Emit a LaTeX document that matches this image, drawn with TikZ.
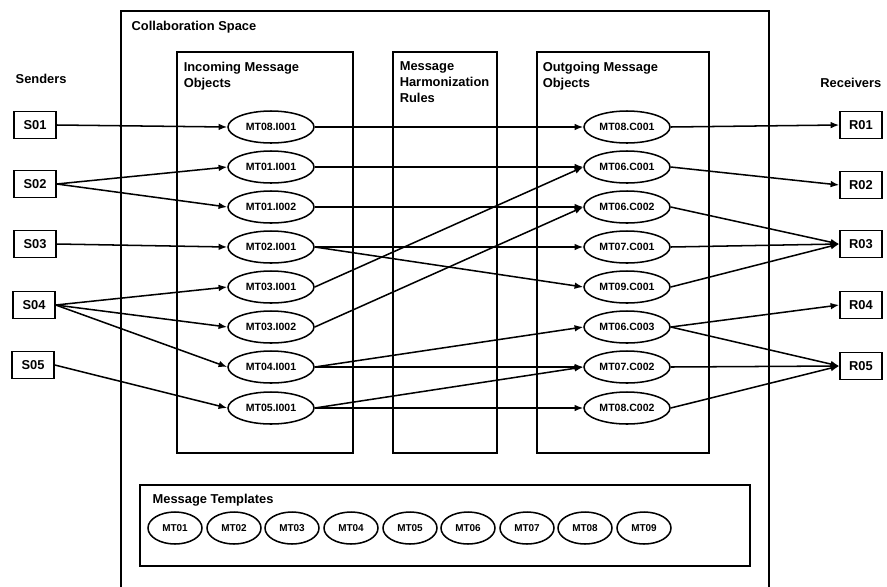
\documentclass[tikz,border=0pt]{standalone}
\usepackage{fontspec}
\setmainfont{Liberation Sans}
\usetikzlibrary{shapes.geometric,arrows.meta}

\begin{document}
\begin{tikzpicture}[x=0.3mm,y=-0.3mm,line width=1.3pt,
		font=\bfseries\fontsize{11}{13.6}\selectfont,
		box/.style={draw,minimum width=12.6mm,minimum height=8.1mm,inner sep=0pt},
		msg/.style={draw,ellipse,minimum width=25.8mm,minimum height=9.6mm,inner sep=0pt,font=\bfseries\fontsize{9}{10}\selectfont},
		tpl/.style={draw,ellipse,minimum width=16.2mm,minimum height=9.6mm,inner sep=0pt,font=\bfseries\fontsize{8.5}{10}\selectfont},
		arr/.style={-{Latex[length=2.6mm,width=2mm]}}]
		\useasboundingbox (0,0) rectangle (887,586);
		\draw(121,590) -- (121,11) -- (769,11) -- (769,590);
		\draw(177,52) rectangle (353,453);
		\draw(393,52) rectangle (497,453);
		\draw(537,52) rectangle (709,453);
		\draw(140,485) rectangle (750,566);
		\node[anchor=base west] (space) at (127,30) {Collaboration Space};
		\node[anchor=north west,align=left,inner sep=0pt] (incoming) at (183,61) {Incoming Message\\Objects};
		\node[anchor=north west,align=left,inner sep=0pt] (rules) at (399,61) {Message\\Harmonization\\Rules};
		\node[anchor=north west,align=left,inner sep=0pt] (outgoing) at (542,61) {Outgoing Message\\Objects};
		\node[anchor=base west] (templates) at (148,503) {Message Templates};
		\node[anchor=base west] (senders) at (11,83) {Senders};
		\node[anchor=base east] (receivers) at (886,87) {Receivers};
		% senders and receivers
		\node[box] (S01) at (35,125) {S01};
		\node[box] (S02) at (35,184) {S02};
		\node[box] (S03) at (35,244) {S03};
		\node[box] (S04) at (34,305) {S04};
		\node[box] (S05) at (33,365) {S05};
		\node[box] (R01) at (861,125) {R01};
		\node[box] (R02) at (861,185) {R02};
		\node[box] (R03) at (861,244) {R03};
		\node[box] (R04) at (861,305) {R04};
		\node[box] (R05) at (861,366) {R05};
		% message objects
		\node[msg] (in1) at (271,127) {MT08.I001};
		\node[msg] (in2) at (271,167) {MT01.I001};
		\node[msg] (in3) at (271,207) {MT01.I002};
		\node[msg] (in4) at (271,247) {MT02.I001};
		\node[msg] (in5) at (271,287) {MT03.I001};
		\node[msg] (in6) at (271,327) {MT03.I002};
		\node[msg] (in7) at (271,367) {MT04.I001};
		\node[msg] (in8) at (271,408) {MT05.I001};
		\node[msg] (out1) at (627,127) {MT08.C001};
		\node[msg] (out2) at (627,167) {MT06.C001};
		\node[msg] (out3) at (627,207) {MT06.C002};
		\node[msg] (out4) at (627,247) {MT07.C001};
		\node[msg] (out5) at (627,287) {MT09.C001};
		\node[msg] (out6) at (627,327) {MT06.C003};
		\node[msg] (out7) at (627,367) {MT07.C002};
		\node[msg] (out8) at (627,408) {MT08.C002};
		% templates
		\node[tpl] (T1) at (175,528) {MT01};
		\node[tpl] (T2) at (234,528) {MT02};
		\node[tpl] (T3) at (292,528) {MT03};
		\node[tpl] (T4) at (351,528) {MT04};
		\node[tpl] (T5) at (410,528) {MT05};
		\node[tpl] (T6) at (468,528) {MT06};
		\node[tpl] (T7) at (527,528) {MT07};
		\node[tpl] (T8) at (585,528) {MT08};
		\node[tpl] (T9) at (644,528) {MT09};
		% connectors
		\draw[arr](S01.east) -- (in1.west);
		\draw[arr](S02.east) -- (in2.west);
		\draw[arr](S02.east) -- (in3.west);
		\draw[arr](S03.east) -- (in4.west);
		\draw[arr](S04.east) -- (in5.west);
		\draw[arr](S04.east) -- (in6.west);
		\draw[arr](S04.east) -- (in7.west);
		\draw[arr](S05.east) -- (in8.west);
		\draw[arr](in1.east) -- (out1.west);
		\draw[arr](in2.east) -- (out2.west);
		\draw[arr](in3.east) -- (out3.west);
		\draw[arr](in4.east) -- (out4.west);
		\draw[arr](in4.east) -- (out5.west);
		\draw[arr](in5.east) -- (out2.west);
		\draw[arr](in6.east) -- (out3.west);
		\draw[arr](in7.east) -- (out6.west);
		\draw[arr](in7.east) -- (out7.west);
		\draw[arr](in8.east) -- (out7.west);
		\draw[arr](in8.east) -- (out8.west);
		\draw[arr](out1.east) -- (R01.west);
		\draw[arr](out2.east) -- (R02.west);
		\draw[arr](out3.east) -- (R03.west);
		\draw[arr](out4.east) -- (R03.west);
		\draw[arr](out5.east) -- (R03.west);
		\draw[arr](out6.east) -- (R04.west);
		\draw[arr](out6.east) -- (R05.west);
		\draw[arr](out7.east) -- (R05.west);
		\draw[arr](out8.east) -- (R05.west);
\end{tikzpicture}
\end{document}
